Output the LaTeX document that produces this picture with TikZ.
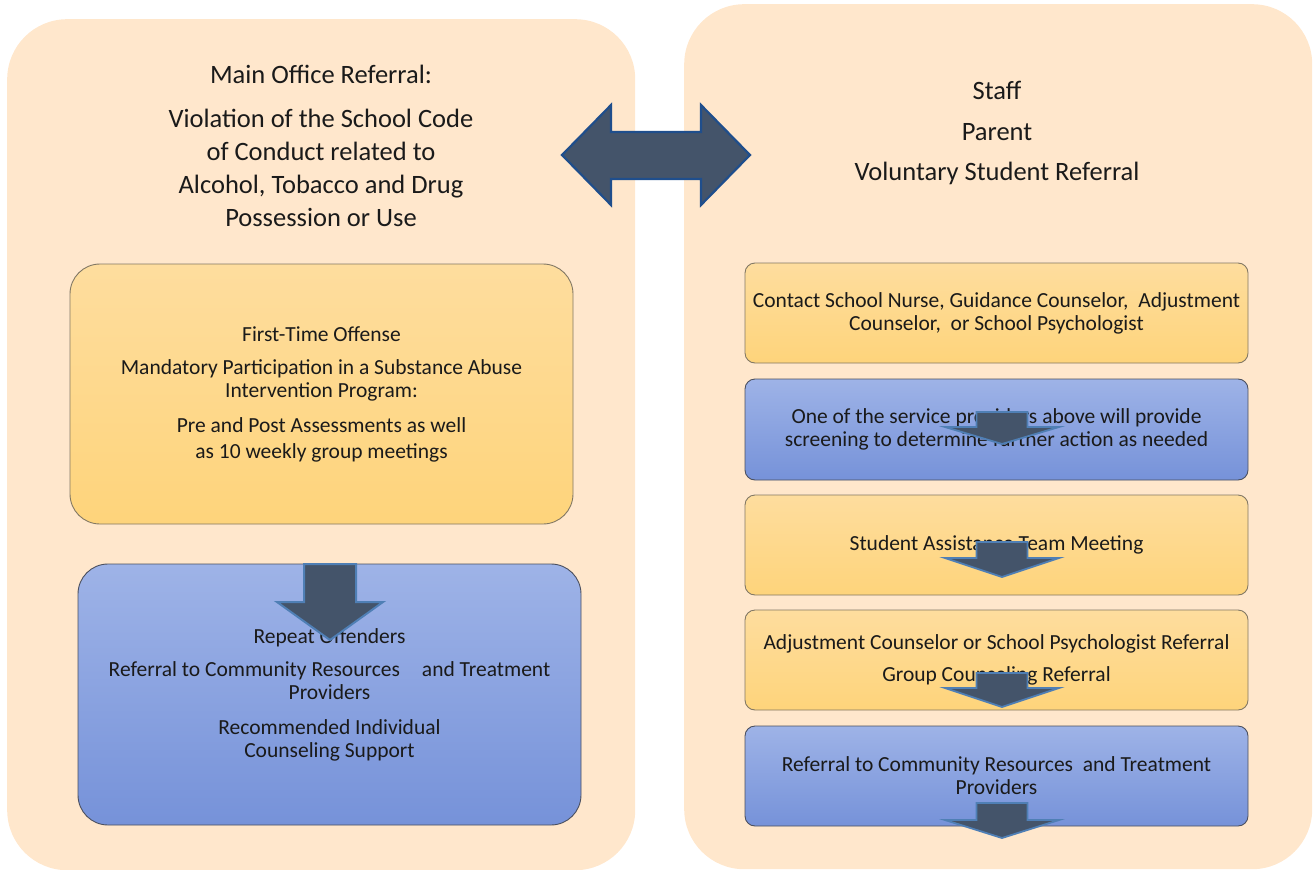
\documentclass[tikz,border=0pt]{standalone}
\usepackage{fontspec}
\setmainfont{Carlito}
\definecolor{panelc}{HTML}{FFE7CC}
\definecolor{yelt}{HTML}{FEDD9E}
\definecolor{yelb}{HTML}{FED47B}
\definecolor{blut}{HTML}{9EB3E7}
\definecolor{blub}{HTML}{7692D9}
\definecolor{arrfill}{HTML}{44546A}
\definecolor{arredge}{HTML}{1F4E8C}
\definecolor{arredgeb}{HTML}{4F7FB5}
\definecolor{txt}{HTML}{1A1A1A}
\tikzset{
  panel/.style={fill=panelc, rounded corners=60pt, inner sep=0pt, anchor=north west},
  boxbase/.style={rounded corners=#1, inner sep=4pt, align=center, text=txt,
    font=\fontsize{21.5}{23}\selectfont, line width=0.9pt},
  ybox/.style={boxbase=#1, draw={rgb,255:red,130;green,120;blue,100}, top color=yelt, bottom color=yelb},
  bbox/.style={boxbase=#1, draw={rgb,255:red,75;green,80;blue,95}, top color=blut, bottom color=blub},
  title/.style={align=center, text=txt, font=\fontsize{26.5}{33}\selectfont, inner sep=0pt},
  bigarr/.style={fill=arrfill, draw=arredge, line width=2.2pt, line join=miter},
  smallarr/.style={fill=arrfill, draw=arredgeb, line width=1.8pt, line join=miter},
  pics/dnarr/.style args={#1/#2/#3/#4}{code={
    \path[smallarr] (-#1,0) -- (#1,0) -- (#1,#3) -- (#2,#3) -- (0,#3+#4) -- (-#2,#3) -- (-#1,#3) -- cycle;
  }}
}
\begin{document}
\begin{tikzpicture}[x=1pt,y=-1pt]
\useasboundingbox (0,0) rectangle (1315,870);
% panels
\node[panel, minimum width=628pt, minimum height=851pt] (lp) at (7,19) {};
\node[panel, minimum width=628pt, minimum height=865pt] (rp) at (684,4) {};
% titles
\node[title] (ltitle) at (321,146) {Main Office Referral:\\[11pt]
Violation of the School Code\\ of Conduct related to\\ Alcohol, Tobacco and Drug\\ Possession or Use};
\node[title, font=\fontsize{26.5}{40.5}\selectfont] (rtitle) at (997,133) {Staff\\ Parent\\ Voluntary Student Referral};
% left boxes
\node[ybox=30pt, minimum width=503pt, minimum height=260pt] (lfirst) at (321.5,394) {First-Time Offense\\[10pt]
Mandatory Participation in a Substance Abuse\\ Intervention Program:\\[12pt]
Pre and Post Assessments as well\\[3pt] as 10 weekly group meetings};
\node[bbox=30pt, minimum width=503pt, minimum height=261pt] (lrepeat) at (329.5,694.5) {Repeat Offenders\\[10pt]
Referral to Community Resources\hspace{22pt}and Treatment\\ Providers\\[12pt]
Recommended Individual\\ Counseling Support};
% right boxes
\node[ybox=10pt, minimum width=503pt, minimum height=100pt] (r1) at (996.5,313) {Contact School Nurse, Guidance Counselor,\ \ Adjustment\\ Counselor,\ \ or School Psychologist};
\node[bbox=10pt, minimum width=503pt, minimum height=101pt] (r2) at (996.5,429.5) {One of the service providers above will provide\\ screening to determine further action as needed};
\node[ybox=10pt, minimum width=503pt, minimum height=100pt] (r3) at (996.5,545) {Student Assistance Team Meeting};
\node[ybox=10pt, minimum width=503pt, minimum height=100pt] (r4) at (996.5,660) {Adjustment Counselor or School Psychologist Referral\\[9pt] Group Counseling Referral};
\node[bbox=10pt, minimum width=503pt, minimum height=100pt] (r5) at (996.5,776) {Referral to Community Resources\ \ and Treatment\\ Providers};
% double arrow
\path[bigarr] (562,155) -- (611,105) -- (611,132) -- (701,132) -- (701,105) -- (750,155)
  -- (701,205) -- (701,179) -- (611,179) -- (611,205) -- cycle;
% left big down arrow
\path[bigarr, draw=arredgeb, line width=2pt] (304,564) -- (356,564) -- (356,602) -- (383,602) -- (330,640)
  -- (277,602) -- (304,602) -- cycle;
% small down arrows
\pic at (1002,412) {dnarr={25.5/57/15/17}};
\pic at (1002,542) {dnarr={25.5/57/16/19}};
\pic at (1002,673) {dnarr={25.5/57/15/19}};
\pic at (1002,803) {dnarr={25.5/57/17/18}};
\end{tikzpicture}
\end{document}
